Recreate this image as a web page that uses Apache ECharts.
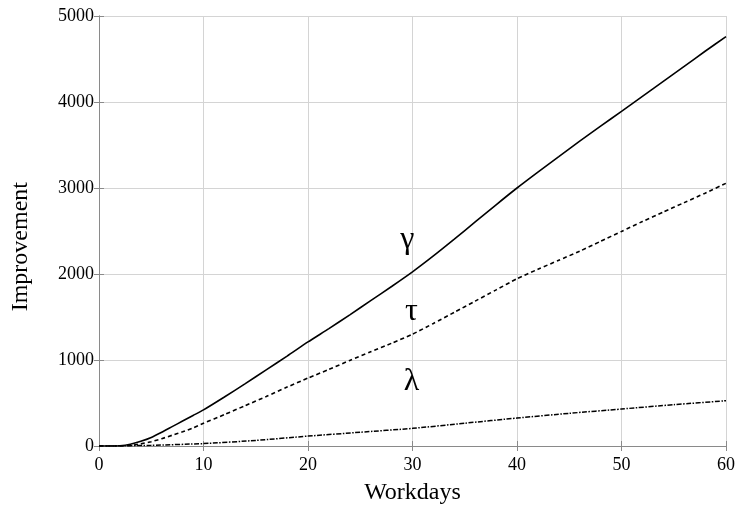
<!DOCTYPE html>
<html><head><meta charset="utf-8">
<script src="https://cdn.jsdelivr.net/npm/echarts@6/dist/echarts.min.js"></script>
<style>html,body{margin:0;padding:0;background:#fff}#c{width:737px;height:505px}</style>
</head><body><div id="c"></div>
<script>
var xTicks = [0,10,20,30,40,50,60];
var yTicks = [0,1000,2000,3000,4000,5000];
var gammaX = [0,1,2,3,4,5,6,7,8,9,10,12,14,16,18,20,22,24,26,28,30,32,34,36,38,40,42,44,46,48,50,52,54,56,58,60];
var gammaY = [0,0,2,20,55,100,160,225,290,355,420,570,725,885,1045,1210,1365,1525,1690,1855,2025,2210,2405,2605,2805,3000,3185,3365,3545,3720,3890,4065,4240,4415,4590,4760];
var tauX = [0,1,2,3,4,5,6,7,8,9,10,12,14,16,18,20,22,24,26,28,30,32,34,36,38,40,42,44,46,48,50,52,54,56,58,60];
var tauY = [0,0,0,5,25,50,85,125,165,210,265,365,470,575,685,790,890,995,1095,1195,1300,1425,1555,1685,1815,1945,2055,2160,2265,2380,2495,2610,2720,2830,2940,3055];
var lambdaX = [0,2,5,10,15,20,25,30,35,40,45,50,55,60];
var lambdaY = [0,2,8,28,65,115,160,205,265,325,380,430,480,527];
var seriesLabels = ['γ','τ','λ'];
var labelAt = [[29.5,2395],[29.9,1560],[29.9,745]];

function pairs(xs, ys){ return xs.map(function(x,i){return [x, ys[i]];}); }
var font = 'Liberation Serif';
function mk(i){ return {coord: labelAt[i], value: seriesLabels[i]}; }
var mpStyle = {symbol:'circle', symbolSize:1, itemStyle:{color:'rgba(0,0,0,0)'},
  label:{show:true, position:'inside', formatter:function(p){return p.value;}, color:'#000', fontFamily:font, fontSize:32}};

var chart = echarts.init(document.getElementById('c'), null, {renderer:'canvas'});
var axisLineC = '#8a8a8a', gridC = '#d4d4d4';
chart.setOption({
  animation:false,
  grid:{left:99, right:11, top:16, bottom:59, containLabel:false, outerBoundsMode:'none'},
  xAxis:[{type:'value', min:0, max:60, interval:10,
    axisLine:{lineStyle:{color:axisLineC, width:1}},
    axisTick:{inside:true, length:5, lineStyle:{color:axisLineC}},
    axisLabel:{color:'#000', fontFamily:font, fontSize:18, margin:10, formatter:function(v){return String(v);}},
    splitLine:{show:true, lineStyle:{color:gridC, width:1}},
    name:'Workdays', nameLocation:'middle', nameGap:35,
    nameTextStyle:{color:'#000', fontFamily:font, fontSize:24}},
   {type:'value', position:'top', min:0, max:60, interval:10,
    axisLine:{show:true, lineStyle:{color:axisLineC}},
    axisTick:{show:true, inside:true, length:5, lineStyle:{color:axisLineC}},
    axisLabel:{show:false}, splitLine:{show:false}}],
  yAxis:[{type:'value', min:0, max:5000, interval:1000,
    axisLine:{show:true, lineStyle:{color:axisLineC, width:1}},
    axisTick:{show:true, inside:true, length:5, lineStyle:{color:axisLineC}},
    axisLabel:{color:'#000', fontFamily:font, fontSize:18, margin:5, formatter:function(v){return String(v);}},
    splitLine:{show:true, lineStyle:{color:gridC, width:1}}},
   {type:'value', position:'right', min:0, max:5000, interval:1000,
    axisLine:{show:true, lineStyle:{color:axisLineC}},
    axisTick:{show:true, inside:true, length:5, lineStyle:{color:axisLineC}},
    axisLabel:{show:false}, splitLine:{show:false}}],
  graphic:[{type:'text', left:9, top:182, rotation:Math.PI/2,
    style:{text:'Improvement', fill:'#000', font:'24px "Liberation Serif"'}}],
  series:[
    {type:'line', name:'gamma', data:pairs(gammaX,gammaY), showSymbol:false, smooth:0.2,
     lineStyle:{color:'#000', width:1.6, type:'solid'},
     markPoint:Object.assign({data:[mk(0)]}, mpStyle)},
    {type:'line', name:'tau', data:pairs(tauX,tauY), showSymbol:false, smooth:0.2,
     lineStyle:{color:'#000', width:1.6, type:[4,3]},
     markPoint:Object.assign({data:[mk(1)]}, mpStyle)},
    {type:'line', name:'lambda', data:pairs(lambdaX,lambdaY), showSymbol:false, smooth:0.2,
     lineStyle:{color:'#000', width:1.5, type:[5,1.5,1.5,1.5]},
     markPoint:Object.assign({data:[mk(2)]}, mpStyle)}
  ]
});
</script></body></html>
